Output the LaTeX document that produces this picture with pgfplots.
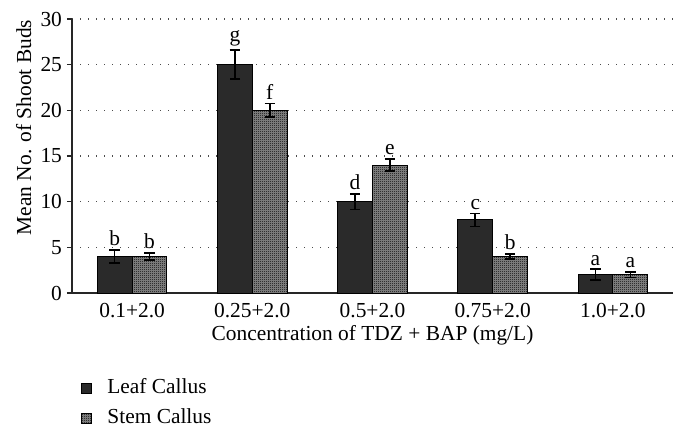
\documentclass[border=0pt]{standalone}
\usepackage{fontspec}
\setmainfont{Liberation Serif}
\usepackage{pgfplots}
\pgfplotsset{compat=1.18}
\usepackage{pgfplotstable}
\usetikzlibrary{patterns}
\pgfdeclarepatternformonly{checker}{\pgfpointorigin}{\pgfpoint{1pt}{1pt}}{\pgfpoint{1pt}{1pt}}{%
  \pgfpathrectangle{\pgfpointorigin}{\pgfpoint{0.5pt}{0.5pt}}%
  \pgfpathrectangle{\pgfpoint{0.5pt}{0.5pt}}{\pgfpoint{0.5pt}{0.5pt}}%
  \pgfusepath{fill}}
\definecolor{leaf}{HTML}{2A2A2A}
\pgfplotstableread{
x leaf lerr lbl stem serr slbl
0 4 0.7 b 4 0.4 b
1 25 1.6 g 20 0.75 f
2 10 0.85 d 14 0.65 e
3 8 0.7 c 4 0.3 b
4 2 0.6 a 2 0.3 a
}\data
\begin{document}
\begin{tikzpicture}[font=\fontsize{10.7}{12.8}\selectfont]
\path[use as bounding box] (-36pt,-72.5pt) rectangle (308pt,146.5pt);
\begin{axis}[
  scale only axis, width=300.5pt, height=137pt,
  at={(0,0)}, anchor=south west,
  xmin=-0.5, xmax=4.5, ymin=0, ymax=30,
  xtick={0,1,2,3,4},
  xticklabels={0.1+2.0,0.25+2.0,0.5+2.0,0.75+2.0,1.0+2.0},
  ytick={0,5,10,15,20,25,30},
  axis x line*=bottom, axis y line*=left,
  axis line style={-, black!85, line width=0.75pt},
  x tick style={draw=none},
  y tick style={black!85, line width=0.75pt},
  tick align=outside, major tick length=2.5pt,
  ymajorgrids, major grid style={black!70, line width=0.6pt, dash pattern=on 0.6pt off 3.4pt},
  /pgf/number format/assume math mode=true,
  tick label style={font=\fontsize{10.7}{12.8}\selectfont},
  yticklabel style={xshift=1pt},
  xticklabel style={yshift=1pt},
  xlabel={Concentration of TDZ + BAP (mg/L)},
  ylabel={Mean No. of Shoot Buds},
  xlabel style={at={(axis description cs:0.5,0)}, anchor=base, yshift=-23.5pt},
  ylabel style={at={(axis description cs:-0.0682,0.604)}, anchor=base, rotate=0},
  legend style={at={(axis description cs:0.015,-0.405)}, anchor=west, draw=none, fill=none,
    inner sep=0pt, column sep=7.5pt, row sep=5pt,
    nodes={inner sep=0pt, text height=7.5pt, text depth=2.5pt, anchor=west}},
  legend cell align=left,
  legend image code/.code={\draw[#1] (0pt,-2.5pt) rectangle (5pt,2.5pt);},
  error bars/error bar style={black, line width=0.8pt},
  error bars/error mark options={black, line width=0.8pt, mark size=2.6pt, rotate=90},
  nodes near coords style={anchor=south, inner sep=0pt, yshift=1.8pt, font=\fontsize{10.7}{12.8}\selectfont},
]
\addplot[ybar, bar width=0.29, bar shift=0pt, fill=leaf, draw=black, line width=0.5pt,
  error bars/.cd, y dir=both, y explicit]
  table[x expr=\thisrow{x}-0.145, y=leaf, y error=lerr] {\data};
\addlegendentry{Leaf Callus}
\addplot[ybar, bar width=0.29, bar shift=0pt, fill=black!45, postaction={pattern=checker}, draw=black, line width=0.5pt,
  error bars/.cd, y dir=both, y explicit]
  table[x expr=\thisrow{x}+0.145, y=stem, y error=serr] {\data};
\addlegendentry{Stem Callus}
\addplot[draw=none, mark=none, nodes near coords, point meta=explicit symbolic, forget plot]
  table[x expr=\thisrow{x}-0.145, y expr=\thisrow{leaf}+\thisrow{lerr}, meta=lbl] {\data};
\addplot[draw=none, mark=none, nodes near coords, point meta=explicit symbolic, forget plot]
  table[x expr=\thisrow{x}+0.145, y expr=\thisrow{stem}+\thisrow{serr}, meta=slbl] {\data};
\end{axis}
\end{tikzpicture}
\end{document}
